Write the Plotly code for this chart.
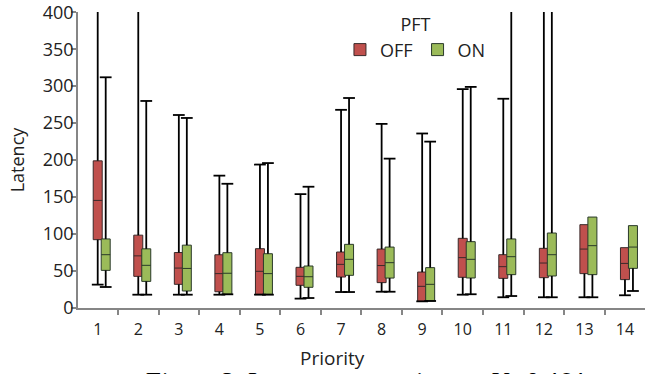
import plotly.graph_objects as go

# ---- data ----
categories = list(range(1, 15))
tick_labels = [str(c) for c in categories]
y_ticks = [0, 50, 100, 150, 200, 250, 300, 350, 400]

off_low  = [31.6, 18, 18, 18, 18, 12.7, 21.6, 22, 9, 18, 14.5, 14.5, 14.5, 17.2]
off_q1   = [92.4, 42.8, 32, 22, 18.6, 30.7, 41.9, 34.3, 9, 41.5, 40.1, 41, 46.5, 38.4]
off_med  = [145.5, 70.5, 54, 46.5, 49.6, 42.8, 59, 57.4, 29.3, 68.1, 55.9, 60.8, 79.7, 60.3]
off_q3   = [199, 98.5, 75, 72, 80.2, 55, 75.7, 79.7, 48.6, 94.2, 72.1, 80.7, 112.7, 81.6]
off_high = [800, 800, 261, 179, 194, 154, 268, 249, 236, 296, 283, 800, 112.7, 81.6]

on_low  = [28.4, 18, 18, 18.5, 18, 13.5, 21.6, 22, 9.5, 18.6, 16.2, 14.5, 14.5, 23]
on_q1   = [50.9, 36, 23, 18.6, 18.6, 28, 44.2, 40.5, 9.5, 40.6, 45.1, 43.3, 45.1, 53.6]
on_med  = [72.1, 57.7, 53.5, 47, 46.5, 42.3, 65.8, 61.3, 32, 65.8, 69.4, 72.1, 84.3, 82.4]
on_q3   = [93.4, 80, 85, 74.8, 73.4, 56.8, 86.1, 82.4, 54.6, 89.7, 93.4, 101.4, 123, 111.4]
on_high = [312, 280, 257, 168, 196, 164, 284, 202, 225, 299, 800, 800, 123, 111.4]

# ---- styling ----
ON_SHIFT = 0.197
BOX_W = 0.222
CAP_HALF = 0.145
AXIS_COLOR = "#868686"
FONT = "Open Sans"

off_x = [c for c in categories]
on_x = [c + ON_SHIFT for c in categories]


def whiskers(xs, lows, q1s, q3s, highs):
    wx, wy = [], []
    for x, lo, a, b, hi in zip(xs, lows, q1s, q3s, highs):
        if hi > b:
            wx += [x, x, None, x - CAP_HALF, x + CAP_HALF, None]
            wy += [b, hi, None, hi, hi, None]
        if lo < a:
            wx += [x, x, None]
            wy += [a, lo, None]
        wx += [x - CAP_HALF, x + CAP_HALF, None]
        wy += [lo, lo, None]
    return wx, wy


fig = go.Figure()

fig.add_trace(go.Box(
    x=off_x, q1=off_q1, median=off_med, q3=off_q3,
    lowerfence=off_q1, upperfence=off_q3,
    width=BOX_W, fillcolor="#C0504D", line=dict(color="#3a2a2a", width=1),
    whiskerwidth=0, boxpoints=False, name="OFF", hoverinfo="skip"))
fig.add_trace(go.Box(
    x=on_x, q1=on_q1, median=on_med, q3=on_q3,
    lowerfence=on_q1, upperfence=on_q3,
    width=BOX_W, fillcolor="#9BBB59", line=dict(color="#2a3a2a", width=1),
    whiskerwidth=0, boxpoints=False, name="ON", hoverinfo="skip"))

for xs, lo, a, b, hi in [(off_x, off_low, off_q1, off_q3, off_high),
                         (on_x, on_low, on_q1, on_q3, on_high)]:
    wx, wy = whiskers(xs, lo, a, b, hi)
    fig.add_trace(go.Scatter(x=wx, y=wy, mode="lines",
                             line=dict(color="black", width=1.8),
                             showlegend=False, hoverinfo="skip"))

fig.update_layout(
    template="none",
    width=645, height=374,
    margin=dict(l=78, r=0, t=12, b=66, autoexpand=False),
    paper_bgcolor="white", plot_bgcolor="white",
    boxmode="overlay",
    font=dict(family=FONT, size=16, color="#222222"),
    showlegend=True,
    legend=dict(
        orientation="h", x=0.462, y=1.0135, xanchor="left", yanchor="top",
        title=dict(text="PFT", side="top center", font=dict(size=18)),
        font=dict(size=18), bgcolor="rgba(0,0,0,0)",
        traceorder="normal", itemwidth=30,
    ),
    xaxis=dict(
        automargin=False,
        range=[0.514, 14.494], showgrid=False, zeroline=False,
        showline=True, linecolor=AXIS_COLOR, linewidth=1.5,
        tickmode="array", tickvals=categories, ticktext=tick_labels,
        ticks="", ticklabelstandoff=6,
        minor=dict(tickmode="array", tickvals=[c + 0.5 for c in categories],
                   ticks="outside", ticklen=5, tickcolor=AXIS_COLOR, tickwidth=1.5,
                   showgrid=False),
        tickfont=dict(size=16),
    ),
    yaxis=dict(
        automargin=False,
        range=[0, 400.3], tickmode="array", tickvals=y_ticks,
        ticktext=[str(v) for v in y_ticks],
        showgrid=False, zeroline=False,
        showline=True, linecolor=AXIS_COLOR, linewidth=1.5,
        ticks="outside", ticklen=5, tickcolor=AXIS_COLOR, tickwidth=1.5,
        ticklabelstandoff=-6, ticklabeloverflow="allow",
        tickfont=dict(size=18),
        title=dict(text="Latency", font=dict(size=18), standoff=13),
    ),
)

fig.add_annotation(text="Priority", x=0.448, y=-0.17, xref="paper", yref="paper",
                   showarrow=False, font=dict(size=19, family=FONT, color="#222222"),
                   xanchor="center", yanchor="middle")
fig.add_annotation(text="Figure 3. Latency comparison at V=0.464",
                   x=0.5026, y=-0.192, xref="paper", yref="paper",
                   showarrow=False, xanchor="center", yanchor="top",
                   font=dict(size=26, family="Liberation Serif", style="italic", color="black"))

fig.write_html("out.html",
               config={"displayModeBar": False},
               post_script="document.body.style.margin='0';"
                           "document.documentElement.style.overflow='hidden';")
